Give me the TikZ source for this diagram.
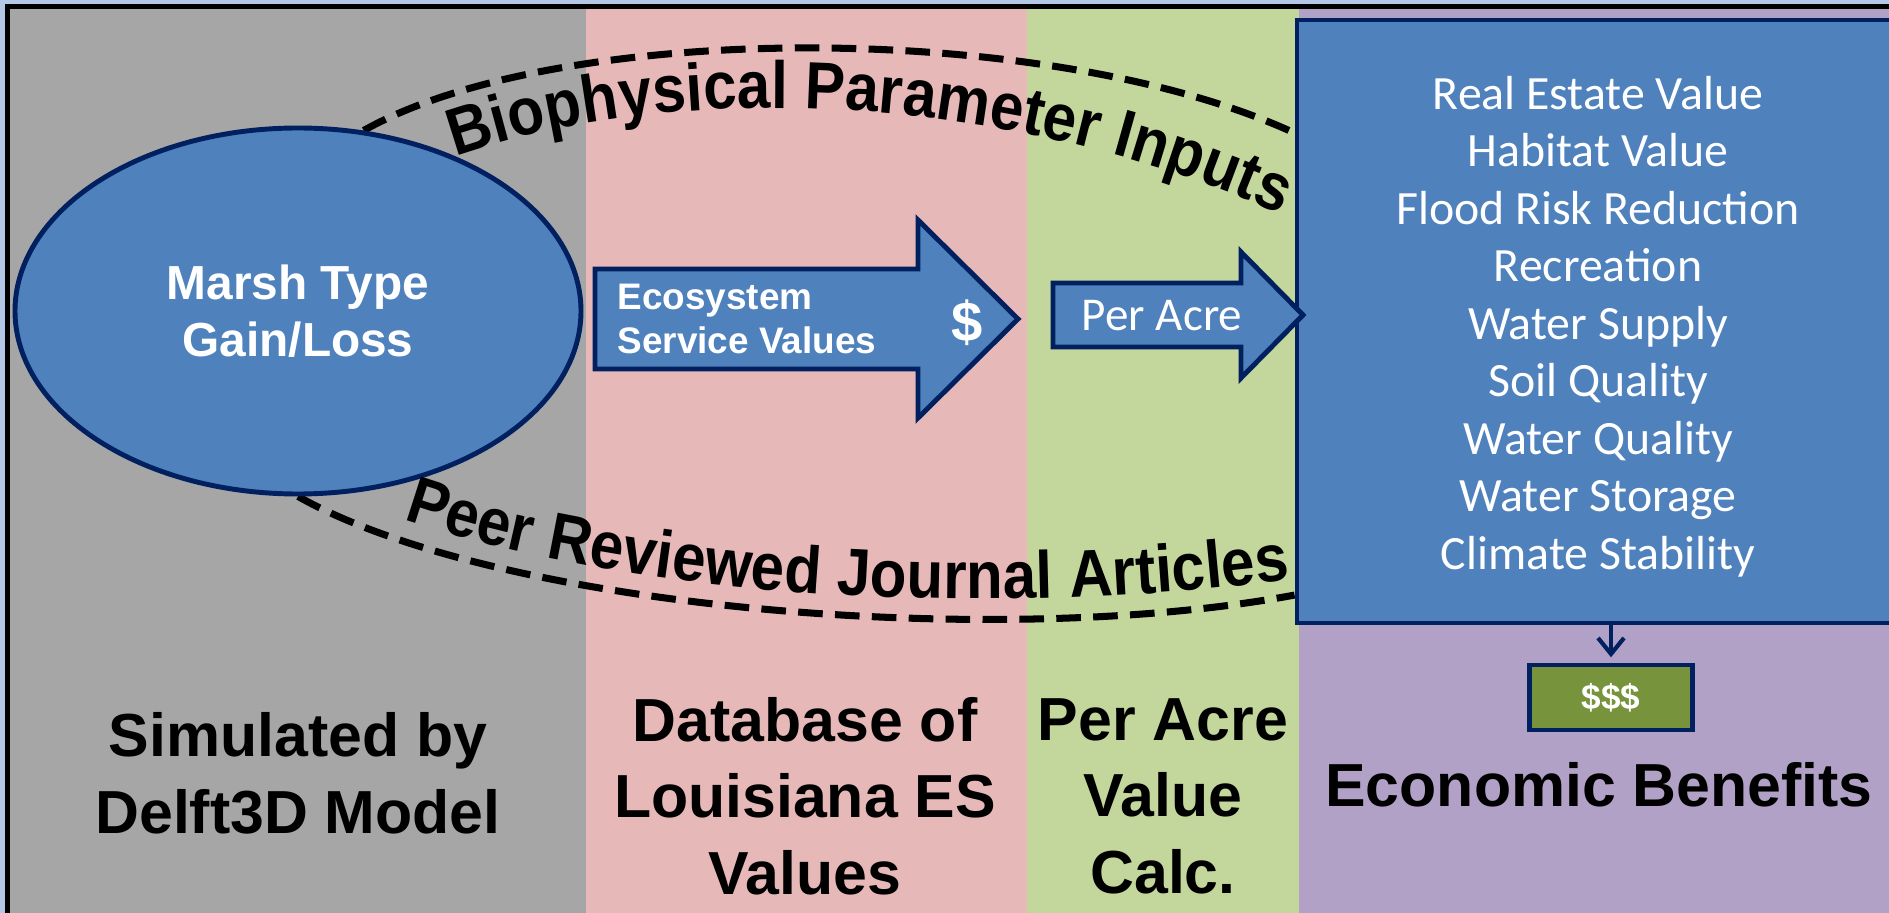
\documentclass[tikz,border=0pt]{standalone}
\usepackage{fontspec}
\setmainfont{Liberation Sans}
\newfontfamily\calibri{Carlito}
\newfontfamily\arcfont[FakeStretch=0.9]{Liberation Sans}
\usetikzlibrary{arrows.meta, positioning, shapes.geometric, calc, decorations.text, backgrounds}
\pgfdeclarelayer{links}
\pgfsetlayers{background,links,main}
\definecolor{slidebg}{HTML}{B4C7E7}
\definecolor{simcol}{HTML}{A6A6A6}
\definecolor{dbcol}{HTML}{E6B9B8}
\definecolor{calccol}{HTML}{C3D69B}
\definecolor{benefitcol}{HTML}{B2A1C7}
\definecolor{boxblue}{HTML}{4F81BD}
\definecolor{edgenavy}{HTML}{002060}
\definecolor{moneygreen}{HTML}{77933C}

\begin{document}
\begin{tikzpicture}[
  bluenode/.style={draw=edgenavy, line width=1.4pt, fill=boxblue, text=white, inner sep=0pt},
  blockarrow/.style={draw=edgenavy, line width=1.4pt, fill=boxblue},
  collabel/.style={align=center, font=\bfseries\fontsize{17.3}{21.8}\selectfont},
  dashline/.style={line width=2pt, dash pattern=on 7pt off 3.5pt},
  curvetext/.style={decorate, decoration={text along path, text align=center,
    text={|\arcfont\bfseries\fontsize{19}{19}\selectfont|#1}}},
  arrow/.style={-{Straight Barb[length=1.6mm, width=2.6mm]}, line width=1.2pt, draw=edgenavy}
]
\useasboundingbox (0,0) rectangle (18.89,-9.13);
\clip (0,0) rectangle (18.89,-9.13);

% the four columns
\begin{pgfonlayer}{background}
\fill[slidebg] (0,0) rectangle (18.89,-9.13);
\fill[simcol] (0.075,-0.065) rectangle (5.855,-9.4);
\fill[dbcol] (5.855,-0.065) rectangle (10.265,-9.4);
\fill[calccol] (10.265,-0.065) rectangle (12.99,-9.4);
\fill[benefitcol] (12.99,-0.065) rectangle (19.3,-9.4);
\draw[line width=1.2pt] (0.075,-9.6) |- (19.3,-0.065);
\end{pgfonlayer}

\node[bluenode, ellipse, minimum width=5.66cm, minimum height=3.66cm, align=center,
      font=\bfseries\fontsize{13.6}{16.2}\selectfont] (marsh) at (2.98,-3.11) {Marsh Type\\Gain/Loss};

\node[bluenode, rectangle, minimum width=6.02cm, minimum height=6.03cm] (services) at (15.98,-3.215) {};
\node[align=center, text=white, font=\calibri\fontsize{13.6}{16.36}\selectfont] (servicelist) at (15.98,-3.265)
  {Real Estate Value\\Habitat Value\\Flood Risk Reduction\\Recreation\\Water Supply\\
   Soil Quality\\Water Quality\\Water Storage\\Climate Stability};

% dashed links between the model and the benefits
\coordinate (bioend) at ($(services.north west)!0.19!(services.south west)$);
\coordinate (peerend) at ($(services.north west)!0.95!(services.south west)$);
\begin{pgfonlayer}{links}
\draw[dashline] (marsh.70) .. controls (5.60,-0.20) and (10.50,-0.20) .. (bioend);
\draw[dashline] (marsh.south) .. controls (5.00,-6.10) and (10.00,-6.50) .. (peerend);
\end{pgfonlayer}

\path[curvetext={Biophysical Parameter Inputs}]
  (4.25,-1.68) .. controls (6.40,-0.80) and (10.05,-0.80) .. (13.10,-2.28);
\path[curvetext={Peer Reviewed Journal Articles}]
  (3.65,-5.05) .. controls (5.60,-5.85) and (9.50,-6.30) .. (13.30,-5.74);

% block arrows
\filldraw[blockarrow] (5.95,-2.69) -- (9.18,-2.69) -- (9.18,-2.20) -- (10.18,-3.19)
  -- (9.18,-4.18) -- (9.18,-3.69) -- (5.95,-3.69) -- cycle;
\node[anchor=west, align=left, inner sep=0pt, text=white,
      font=\bfseries\fontsize{10.5}{12.4}\selectfont] (esv) at (6.17,-3.19) {Ecosystem\\Service Values};
\node[text=white, inner sep=0pt, font=\bfseries\fontsize{16}{16}\selectfont] (dollar) at (9.67,-3.23) {\$};

\filldraw[blockarrow] (10.53,-2.83) -- (12.41,-2.83) -- (12.41,-2.52) -- (13.03,-3.15)
  -- (12.41,-3.78) -- (12.41,-3.47) -- (10.53,-3.47) -- cycle;
\node[text=white, inner sep=0pt, font=\calibri\fontsize{13.4}{16}\selectfont] (peracre) at (11.62,-3.16) {Per Acre};

\node[draw=edgenavy, line width=1.4pt, fill=moneygreen, minimum width=1.63cm, minimum height=0.65cm,
      text=white, font=\bfseries\fontsize{10}{10}\selectfont] (money) at (16.11,-6.975) {\$\$\$};
\draw[arrow] (services.south -| money.north) -- ([yshift=1.5pt]money.north);

% column captions
\node[collabel] (simlab) at (2.98,-7.73) {Simulated by\\Delft3D Model};
\node[collabel] (dblab) at (8.05,-7.96) {Database of\\Louisiana ES\\Values};
\node[collabel] (calclab) at (11.63,-7.96) {Per Acre\\Value\\Calc.};
\node[collabel] (benlab) at (15.99,-7.85) {Economic Benefits};
\end{tikzpicture}
\end{document}
